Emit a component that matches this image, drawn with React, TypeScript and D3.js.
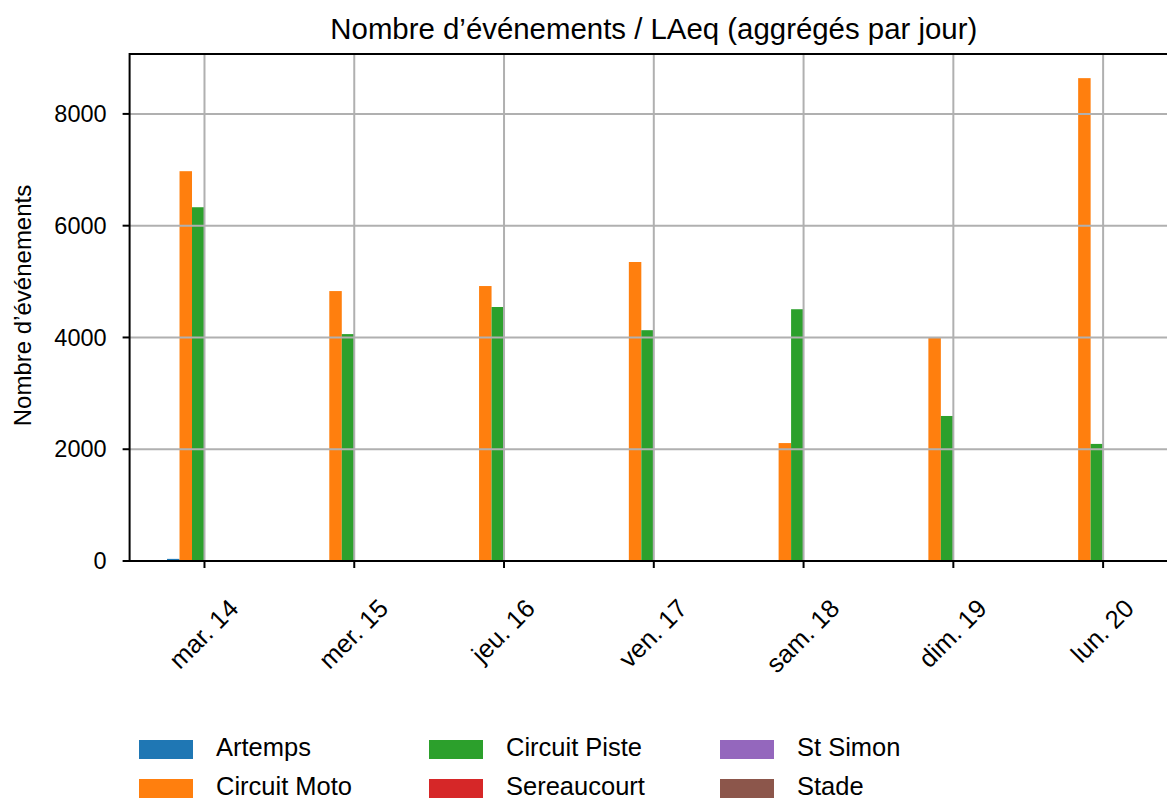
import React, { useEffect, useRef } from "react";
import * as d3 from "d3";

const days = ["mar. 14", "mer. 15", "jeu. 16", "ven. 17", "sam. 18", "dim. 19", "lun. 20"];
const seriesNames = ["Artemps", "Circuit Moto", "Circuit Piste", "Sereaucourt", "St Simon", "Stade"];
const artemps = [38, 15, 12, 12, 0, 15, 15];
const circuitMoto = [6975, 4830, 4920, 5350, 2110, 3990, 8640];
const circuitPiste = [6330, 4060, 4545, 4130, 4505, 2595, 2095];
const sereaucourt = [15, 0, 0, 0, 0, 15, 0];
const stSimon = [12, 12, 12, 0, 0, 0, 0];
const stade = [12, 0, 0, 0, 0, 0, 0];
const seriesValues = [artemps, circuitMoto, circuitPiste, sereaucourt, stSimon, stade];
const colors = ["#1f77b4", "#ff7f0e", "#2ca02c", "#d62728", "#9467bd", "#8c564b"];
const yTicks = [0, 2000, 4000, 6000, 8000];
const title = "Nombre d\u2019événements / LAeq (aggrégés par jour)";
const yLabel = "Nombre d\u2019événements";

const W = 1167;
const H = 800;
const FONT = "'Liberation Sans', Arial, sans-serif";

export default function App() {
  const ref = useRef<SVGSVGElement | null>(null);

  useEffect(() => {
    document.body.style.margin = "0";
    const svg = d3.select(ref.current);
    svg.selectAll("*").remove();

    const left = 129.6, right = 1178, top = 54, bottom = 561;
    const x = d3.scaleBand<string>().domain(days).range([left, right]).padding(0);
    const bw = x.bandwidth();
    const inner = d3.scaleBand<string>().domain(seriesNames).range([-bw / 4, bw / 4]).padding(0);
    const y = d3.scaleLinear().domain([0, 9072]).range([bottom, top]);

    const g = svg.append("g");

    // bars
    seriesNames.forEach((s, j) => {
      g.append("g")
        .selectAll("rect")
        .data(seriesValues[j])
        .join("rect")
        .attr("x", (_, i) => (x(days[i]) as number) + bw / 2 + (inner(s) as number))
        .attr("width", inner.bandwidth())
        .attr("y", (v) => y(v))
        .attr("height", (v) => y(0) - y(v))
        .attr("fill", colors[j]);
    });

    // grid
    const grid = g.append("g").attr("stroke", "#b0b0b0").attr("stroke-width", 2);
    days.forEach((d) => {
      const cx = (x(d) as number) + bw / 2;
      grid.append("line").attr("x1", cx).attr("x2", cx).attr("y1", top).attr("y2", bottom);
    });
    yTicks.forEach((t) => {
      grid.append("line").attr("x1", left).attr("x2", right).attr("y1", y(t)).attr("y2", y(t));
    });

    // spines
    const sp = g.append("g").attr("stroke", "#000").attr("stroke-width", 2).attr("fill", "none");
    sp.append("rect").attr("x", left).attr("y", top).attr("width", right - left).attr("height", bottom - top);

    // y ticks
    yTicks.forEach((t) => {
      sp.append("line").attr("x1", left - 7).attr("x2", left).attr("y1", y(t)).attr("y2", y(t));
      g.append("text")
        .attr("x", left - 23)
        .attr("y", y(t))
        .attr("dy", "0.35em")
        .attr("text-anchor", "end")
        .attr("font-family", FONT)
        .attr("font-size", 23.5)
        .text(String(t));
    });

    // x ticks
    days.forEach((d) => {
      const cx = (x(d) as number) + bw / 2;
      sp.append("line").attr("x1", cx).attr("x2", cx).attr("y1", bottom).attr("y2", bottom + 7);
      const t = g.append("text")
        .attr("text-anchor", "middle")
        .attr("dominant-baseline", "central")
        .attr("font-family", FONT)
        .attr("font-size", 25.5)
        .text(d);
      const len = (t.node() as SVGTextElement).getComputedTextLength();
      const fh = 19;
      const half = ((len + fh) * Math.SQRT1_2) / 2;
      t.attr("transform", `translate(${cx - 1},${bottom + 36 + half}) rotate(-45)`);
    });

    // title
    g.append("text")
      .attr("x", (left + right) / 2)
      .attr("y", 39)
      .attr("text-anchor", "middle")
      .attr("font-family", FONT)
      .attr("font-size", 29.4)
      .text(title);

    // y label
    g.append("text")
      .attr("transform", `translate(31,${(top + bottom) / 2 - 2}) rotate(-90)`)
      .attr("text-anchor", "middle")
      .attr("font-family", FONT)
      .attr("font-size", 24)
      .text(yLabel);

    // legend
    const cols = [139, 429, 720];
    const rows = [740, 779];
    seriesNames.forEach((s, j) => {
      const c = Math.floor(j / 2);
      const r = j % 2;
      g.append("rect")
        .attr("x", cols[c])
        .attr("y", rows[r])
        .attr("width", 54)
        .attr("height", 19)
        .attr("fill", colors[j]);
      g.append("text")
        .attr("x", cols[c] + 77)
        .attr("y", rows[r] + 16)
        .attr("font-family", FONT)
        .attr("font-size", 25.5)
        .text(s);
    });
  }, []);

  return <svg ref={ref} width={W} height={H} style={{ display: "block", background: "#fff" }} />;
}
